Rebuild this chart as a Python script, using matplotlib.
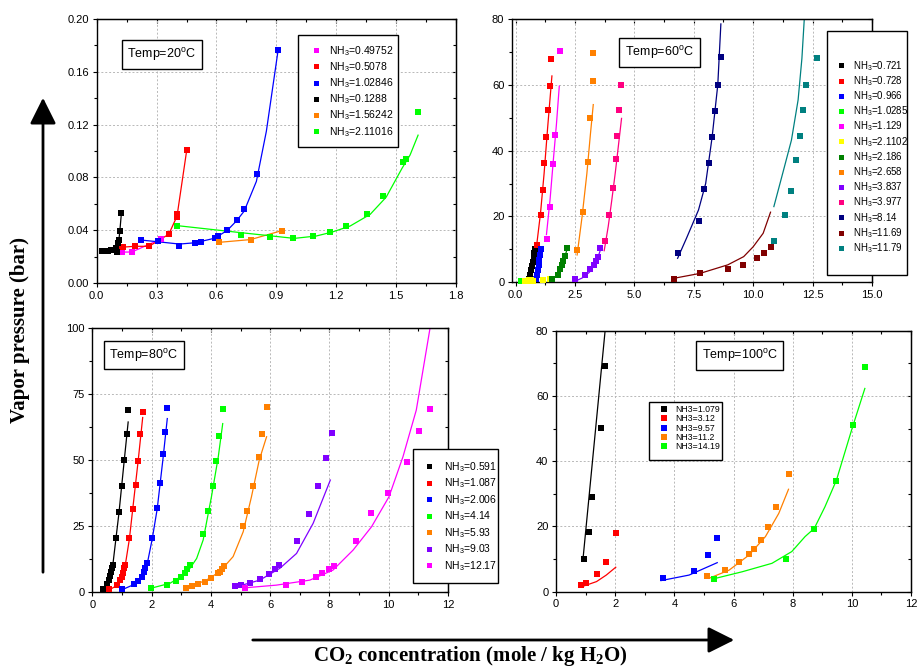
import matplotlib
matplotlib.use('Agg')
import matplotlib.pyplot as plt
from matplotlib.lines import Line2D
from matplotlib.patches import Rectangle, FancyArrowPatch
from matplotlib.ticker import MultipleLocator, FormatStrFormatter

plt.rcParams['font.family'] = ['Liberation Sans', 'DejaVu Sans']

# ---------------- data ----------------
# Temp = 20 C
t20_labels = ['0.49752', '0.5078', '1.02846', '0.1288', '1.56242', '2.11016']
t20_colors = ['#FF00FF', '#FF0000', '#0000FF', '#000000', '#FF8000', '#00FF00']
t20_x = [
    [0.128, 0.176, 0.322],
    [0.106, 0.133, 0.191, 0.262, 0.361, 0.400, 0.404, 0.451],
    [0.224, 0.308, 0.414, 0.494, 0.522, 0.593, 0.610, 0.655, 0.702, 0.739, 0.804, 0.907],
    [0.025, 0.041, 0.058, 0.074, 0.086, 0.096, 0.103, 0.108, 0.111, 0.116, 0.124],
    [0.613, 0.771, 0.928],
    [0.401, 0.721, 0.867, 0.983, 1.086, 1.169, 1.251, 1.356, 1.434, 1.535, 1.550, 1.611],
]
t20_y = [
    [0.0234, 0.0235, 0.0333],
    [0.0278, 0.0272, 0.0278, 0.0278, 0.0369, 0.0498, 0.0523, 0.1006],
    [0.0324, 0.0319, 0.0281, 0.0306, 0.0314, 0.0344, 0.0359, 0.0405, 0.0480, 0.0561, 0.0827, 0.1762],
    [0.0243, 0.0243, 0.0243, 0.0248, 0.0253, 0.0266, 0.0235, 0.0304, 0.0324, 0.0395, 0.0534],
    [0.0308, 0.0329, 0.0397],
    [0.0435, 0.0362, 0.0351, 0.0344, 0.0357, 0.0389, 0.0432, 0.0523, 0.0662, 0.0913, 0.0941, 0.1295],
]
t20_fit_x = [
    [0.128, 0.176, 0.322],
    [0.106, 0.133, 0.191, 0.262, 0.361, 0.400, 0.404, 0.451],
    [0.224, 0.31, 0.414, 0.494, 0.593, 0.655, 0.70, 0.739, 0.80, 0.85, 0.907],
    [0.025, 0.041, 0.058, 0.074, 0.086, 0.096, 0.103, 0.108, 0.111, 0.116, 0.124],
    [0.613, 0.771, 0.928],
    [0.401, 0.70, 0.99, 1.10, 1.18, 1.27, 1.37, 1.45, 1.53, 1.57, 1.61],
]
t20_fit_y = [
    [0.0234, 0.0235, 0.0333],
    [0.0278, 0.0272, 0.0278, 0.0278, 0.0369, 0.0498, 0.0523, 0.1006],
    [0.0325, 0.0312, 0.0295, 0.0305, 0.0340, 0.0400, 0.0470, 0.0545, 0.0770, 0.115, 0.1745],
    [0.0243, 0.0243, 0.0243, 0.0248, 0.0253, 0.0266, 0.0268, 0.0290, 0.0324, 0.0395, 0.0534],
    [0.0308, 0.0329, 0.0397],
    [0.0435, 0.0385, 0.0338, 0.0356, 0.0386, 0.0432, 0.052, 0.065, 0.087, 0.097, 0.112],
]

# Temp = 60 C
t60_labels = ['0.721', '0.728', '0.966', '1.0285', '1.129', '2.1102', '2.186',
              '2.658', '3.837', '3.977', '8.14', '11.69', '11.79']
t60_colors = ['#000000', '#FF0000', '#0000FF', '#00FF00', '#FF00FF', '#FFFF00', '#008000',
              '#FF8000', '#8000FF', '#FF0080', '#000080', '#800000', '#008080']
t60_x = [
    [0.55, 0.62, 0.66, 0.69, 0.73, 0.76, 0.79, 0.83],
    [0.91, 1.05, 1.14, 1.21, 1.30, 1.37, 1.44, 1.51],
    [0.85, 0.90, 0.94, 0.97, 1.00, 1.04, 1.08],
    [0.21],
    [1.33, 1.44, 1.58, 1.65, 1.87],
    [0.39, 0.50, 0.58, 0.66, 0.74, 1.16, 1.44],
    [1.54, 1.79, 1.89, 1.96, 2.00, 2.08, 2.18],
    [2.59, 2.82, 3.03, 3.13, 3.24, 3.24],
    [2.50, 2.92, 3.14, 3.31, 3.40, 3.45, 3.55],
    [3.76, 3.94, 4.11, 4.22, 4.27, 4.35, 4.42],
    [6.82, 7.71, 7.94, 8.13, 8.27, 8.40, 8.51, 8.63],
    [6.65, 7.76, 8.93, 9.59, 10.15, 10.46, 10.73],
    [10.88, 11.35, 11.61, 11.82, 11.96, 12.08, 12.22, 12.69],
]
t60_y = [
    [0.9, 2.2, 3.7, 5.0, 6.3, 7.6, 8.8, 10.1],
    [11.3, 20.5, 27.9, 36.2, 44.1, 52.2, 59.6, 67.8],
    [1.1, 2.2, 3.7, 5.3, 6.8, 8.3, 10.1],
    [0.3],
    [13.1, 22.8, 35.8, 44.9, 70.3],
    [0.5, 0.5, 0.6, 0.6, 0.5, 0.6, 0.9],
    [0.9, 2.2, 3.9, 5.3, 6.6, 8.0, 10.3],
    [9.8, 21.3, 36.4, 49.8, 61.3, 69.8],
    [0.9, 2.2, 3.9, 5.3, 6.5, 7.8, 10.3],
    [12.4, 20.5, 28.6, 37.4, 44.3, 52.2, 60.0],
    [9.0, 18.6, 28.4, 36.2, 44.1, 52.1, 60.0, 68.6],
    [0.9, 2.7, 4.1, 5.4, 7.3, 9.0, 10.8],
    [12.5, 20.5, 27.7, 37.2, 44.5, 52.4, 60.0, 68.1],
]
t60_fit_x = [
    [0.55, 0.62, 0.66, 0.69, 0.73, 0.76, 0.79, 0.83],
    [0.88, 1.05, 1.20, 1.35, 1.53],
    [0.85, 0.90, 0.94, 0.97, 1.00, 1.04, 1.08],
    [],
    [1.30, 1.45, 1.60, 1.72, 1.84],
    [],
    [1.54, 1.79, 1.89, 1.96, 2.00, 2.08, 2.18],
    [2.59, 2.80, 3.00, 3.15, 3.27],
    [2.50, 2.80, 3.10, 3.30, 3.45, 3.60],
    [3.73, 3.90, 4.05, 4.20, 4.32, 4.46],
    [6.82, 7.20, 7.70, 8.00, 8.27, 8.51, 8.64],
    [6.65, 7.76, 8.93, 9.60, 10.00, 10.42, 10.73],
    [10.87, 11.26, 11.61, 11.89, 12.05, 12.15],
]
t60_fit_y = [
    [0.9, 2.2, 3.7, 5.0, 6.3, 7.6, 8.8, 10.1],
    [10.8, 21.0, 33.0, 47.0, 62.7],
    [1.1, 2.2, 3.7, 5.3, 6.8, 8.3, 10.1],
    [],
    [14.5, 25.0, 38.0, 48.0, 59.6],
    [],
    [0.9, 2.2, 3.9, 5.3, 6.6, 8.0, 10.3],
    [8.3, 20.0, 33.0, 45.0, 54.0],
    [0.3, 1.3, 3.0, 5.0, 7.2, 10.5],
    [9.6, 17.0, 25.0, 33.5, 41.0, 49.8],
    [7.3, 13.5, 22.0, 30.0, 44.0, 60.0, 78.5],
    [1.2, 2.7, 5.3, 7.8, 10.8, 14.9, 21.3],
    [23.0, 33.6, 43.2, 55.4, 68.0, 80.0],
]

# Temp = 80 C
t80_labels = ['0.591', '1.087', '2.006', '4.14', '5.93', '9.03', '12.17']
t80_colors = ['#000000', '#FF0000', '#0000FF', '#00FF00', '#FF8000', '#8000FF', '#FF00FF']
t80_x = [
    [0.37, 0.51, 0.57, 0.60, 0.63, 0.65, 0.69, 0.79, 0.90, 0.99, 1.07, 1.16, 1.22],
    [0.57, 0.84, 0.93, 0.99, 1.04, 1.08, 1.11, 1.25, 1.36, 1.46, 1.54, 1.62, 1.70],
    [0.99, 1.42, 1.55, 1.67, 1.73, 1.79, 1.85, 2.02, 2.19, 2.28, 2.38, 2.46, 2.53],
    [1.97, 2.53, 2.84, 2.98, 3.12, 3.20, 3.31, 3.72, 3.91, 4.06, 4.19, 4.28, 4.40],
    [3.15, 3.35, 3.55, 3.80, 4.02, 4.25, 4.30, 4.36, 4.44, 5.09, 5.22, 5.43, 5.62, 5.74, 5.88],
    [4.80, 5.03, 5.31, 5.66, 5.97, 6.16, 6.30, 6.91, 7.31, 7.62, 7.87, 8.07],
    [5.16, 6.52, 7.08, 7.56, 7.75, 7.97, 8.15, 8.89, 9.39, 9.98, 10.60, 11.02, 11.40],
]
t80_y = [
    [1.3, 3.0, 4.5, 6.1, 7.7, 9.0, 10.2, 20.3, 30.4, 40.2, 50.1, 59.9, 68.9],
    [1.0, 2.5, 4.5, 5.8, 7.3, 9.0, 10.2, 20.6, 31.3, 40.7, 49.8, 59.8, 68.3],
    [1.0, 2.9, 4.3, 5.8, 7.4, 9.0, 10.8, 20.3, 31.9, 41.4, 52.1, 60.7, 69.6],
    [1.4, 2.6, 4.3, 5.8, 7.1, 8.6, 10.1, 21.9, 30.5, 40.2, 49.7, 59.1, 69.2],
    [1.6, 2.3, 2.9, 3.9, 5.4, 7.1, 7.7, 8.6, 9.8, 25.1, 30.8, 40.2, 51.1, 60.0, 70.1],
    [2.3, 2.6, 3.5, 4.9, 6.7, 8.6, 10.2, 19.3, 29.5, 40.2, 50.7, 60.3],
    [1.6, 2.6, 3.9, 5.8, 7.1, 8.6, 9.8, 19.4, 30.0, 37.6, 49.1, 61.0, 69.5],
]
t80_fit_x = [
    [0.37, 0.55, 0.69, 0.90, 1.07, 1.21],
    [0.57, 0.84, 1.00, 1.11, 1.25, 1.40, 1.55, 1.70],
    [0.99, 1.42, 1.67, 1.85, 2.02, 2.19, 2.38, 2.53],
    [1.97, 2.62, 3.18, 3.52, 3.74, 4.02, 4.25, 4.40],
    [3.15, 3.85, 4.30, 4.75, 5.09, 5.37, 5.63, 5.88],
    [4.80, 5.65, 6.33, 6.89, 7.45, 8.03],
    [5.16, 6.21, 7.34, 8.12, 8.80, 9.42, 10.01, 10.48, 10.93, 11.39],
]
t80_fit_y = [
    [1.0, 4.0, 10.0, 30.0, 49.0, 64.4],
    [0.8, 2.5, 5.5, 10.0, 20.0, 35.0, 50.0, 66.1],
    [0.8, 2.9, 5.8, 10.5, 20.0, 31.5, 50.0, 65.7],
    [1.4, 3.3, 7.1, 12.7, 19.7, 36.1, 51.2, 63.8],
    [1.4, 4.5, 7.7, 13.4, 22.8, 36.1, 49.9, 58.8],
    [1.8, 4.5, 9.0, 14.6, 26.0, 42.4],
    [1.6, 2.6, 4.5, 8.3, 15.9, 24.7, 36.1, 51.2, 68.9, 99.7],
]

# Temp = 100 C
t100_labels = ['1.079', '3.12', '9.57', '11.2', '14.19']
t100_colors = ['#000000', '#FF0000', '#0000FF', '#FF8000', '#00FF00']
t100_x = [
    [0.94, 1.10, 1.23, 1.51, 1.67],
    [0.86, 1.00, 1.37, 1.68, 2.02],
    [3.62, 4.65, 5.15, 5.45],
    [5.10, 5.70, 6.18, 6.52, 6.69, 6.92, 7.17, 7.45, 7.86],
    [5.34, 7.78, 8.73, 9.47, 10.03, 10.44],
]
t100_y = [
    [9.9, 18.4, 29.1, 50.3, 69.2],
    [2.0, 2.8, 5.3, 9.2, 17.9],
    [4.1, 6.3, 11.2, 16.5],
    [4.9, 6.6, 9.0, 11.5, 13.1, 16.0, 19.7, 26.0, 36.1],
    [4.0, 9.9, 19.2, 33.8, 51.2, 68.9],
]
t100_fit_x = [
    [0.92, 1.66],
    [0.86, 1.37, 1.70, 2.02],
    [3.55, 4.50, 5.45],
    [5.17, 5.85, 6.52, 7.08, 7.53, 7.86],
    [5.26, 6.29, 7.30, 7.97, 8.42, 8.73, 9.09, 9.48, 9.99, 10.44],
]
t100_fit_y = [
    [10.7, 80.0],
    [1.5, 3.1, 5.1, 7.5],
    [3.4, 5.1, 8.9],
    [4.1, 6.6, 11.2, 16.9, 24.0, 31.4],
    [3.8, 6.1, 8.7, 12.3, 16.9, 19.4, 26.0, 34.2, 49.5, 62.3],
]

# ---------------- figure ----------------
W, H = 917, 670
fig = plt.figure(figsize=(W / 100, H / 100), dpi=100)


def px_axes(l, t, r, b):
    return fig.add_axes([l / W, 1 - b / H, (r - l) / W, (b - t) / H])


def style(ax, xlim, ylim, xmaj, ymaj, xfmt, yfmt):
    ax.set_xlim(xlim)
    ax.set_ylim(ylim)
    ax.xaxis.set_major_locator(MultipleLocator(xmaj))
    ax.xaxis.set_minor_locator(MultipleLocator(xmaj / 2))
    ax.yaxis.set_major_locator(MultipleLocator(ymaj))
    ax.yaxis.set_minor_locator(MultipleLocator(ymaj / 2))
    ax.xaxis.set_major_formatter(FormatStrFormatter(xfmt))
    ax.yaxis.set_major_formatter(FormatStrFormatter(yfmt))
    ax.grid(True, which='major', color='#b8b8b8', linestyle=(0, (2, 2)), linewidth=0.7)
    ax.set_axisbelow(True)
    ax.tick_params(which='major', direction='out', length=3, width=0.8, labelsize=8, pad=2.5)
    ax.tick_params(which='minor', direction='out', length=2, width=0.8)
    for sp in ax.spines.values():
        sp.set_linewidth(1)
    # inward ticks on the top and right sides
    sx = ax.secondary_xaxis('top')
    sx.xaxis.set_major_locator(MultipleLocator(xmaj))
    sx.xaxis.set_minor_locator(MultipleLocator(xmaj / 2))
    sx.tick_params(which='both', direction='in', labeltop=False, width=0.8)
    sx.tick_params(which='major', length=3)
    sx.tick_params(which='minor', length=2)
    sy = ax.secondary_yaxis('right')
    sy.yaxis.set_major_locator(MultipleLocator(ymaj))
    sy.yaxis.set_minor_locator(MultipleLocator(ymaj / 2))
    sy.tick_params(which='both', direction='in', labelright=False, width=0.8)
    sy.tick_params(which='major', length=3)
    sy.tick_params(which='minor', length=2)


def draw(ax, xs, ys, fxs, fys, colors, ms):
    for x, y, fx, fy, c in zip(xs, ys, fxs, fys, colors):
        if fx:
            ax.plot(fx, fy, '-', color=c, lw=0.9, zorder=2)
        ax.plot(x, y, 's', color=c, ms=ms, mew=0, zorder=3, clip_on=False)


def legend(ax, labels, colors, sub, xm, xt, y0, step, fs, ms, box, rowf):
    F = fs * 100 / 72
    hl = 0.8
    rowh = rowf * F
    prefix = 'NH$_\\mathregular{3}$=' if sub else 'NH3='
    handles = [Line2D([], [], ls='none', marker='s', ms=ms, color=c, mew=0) for c in colors]
    ax.legend(handles, [prefix + s for s in labels], loc='upper left',
              bbox_to_anchor=((xm - hl * F / 2) / W, 1 - (y0 - rowh / 2) / H),
              bbox_transform=fig.transFigure, frameon=False, fontsize=fs,
              handlelength=hl, handletextpad=(xt - xm - hl * F / 2) / F,
              labelspacing=(step - rowh) / F, borderpad=0, borderaxespad=0)
    rect = Rectangle((box[0] / W, 1 - box[3] / H), (box[2] - box[0]) / W, (box[3] - box[1]) / H,
                     transform=fig.transFigure, facecolor='white', edgecolor='black',
                     lw=1, zorder=4, clip_on=False)
    ax.add_artist(rect)


def temp_box(ax, cx, cy, txt):
    ax.text(cx / W, 1 - cy / H, txt, transform=fig.transFigure, ha='center', va='center',
            fontsize=9, zorder=6,
            bbox=dict(boxstyle='square,pad=0.45', facecolor='white', edgecolor='black', lw=1))


# 20 C
ax1 = px_axes(96.7, 19, 456, 283)
style(ax1, (0, 1.8), (0, 0.2), 0.3, 0.04, '%.1f', '%.2f')
draw(ax1, t20_x, t20_y, t20_fit_x, t20_fit_y, t20_colors, 3.8)
legend(ax1, t20_labels, t20_colors, True, 316, 329, 50.7, 16.4, 7.5, 3.6,
       (298, 35, 398, 147), 1.34)
temp_box(ax1, 162, 54.5, 'Temp=20$^\\mathregular{o}$C')

# 60 C
ax2 = px_axes(512, 19, 872, 282.3)
style(ax2, (-0.15, 15), (0, 80), 2.5, 20, '%.1f', '%d')
draw(ax2, t60_x, t60_y, t60_fit_x, t60_fit_y, t60_colors, 4)
legend(ax2, t60_labels, t60_colors, True, 840.7, 853, 65.7, 15, 7, 3.6,
       (827, 31, 907, 275), 1.40)
temp_box(ax2, 659.5, 52.5, 'Temp=60$^\\mathregular{o}$C')

# 80 C
ax3 = px_axes(92.3, 328, 448, 592)
style(ax3, (0, 12), (0, 100), 2, 25, '%d', '%d')
draw(ax3, t80_x, t80_y, t80_fit_x, t80_fit_y, t80_colors, 4.2)
legend(ax3, t80_labels, t80_colors, True, 429, 444, 466.7, 16.7, 7.5, 3.6,
       (413, 449, 498, 583), 1.34)
temp_box(ax3, 144, 355, 'Temp=80$^\\mathregular{o}$C')

# 100 C
ax4 = px_axes(556, 330.7, 911, 591.7)
style(ax4, (0, 12), (0, 80), 2, 20, '%d', '%d')
draw(ax4, t100_x, t100_y, t100_fit_x, t100_fit_y, t100_colors, 4.4)
legend(ax4, t100_labels, t100_colors, False, 663.7, 675.7, 410, 10.7, 6.3, 4.2,
       (649, 402, 722, 460), 1.18)
temp_box(ax4, 739.5, 355.5, 'Temp=100$^\\mathregular{o}$C')

# shared labels and arrows
fig.text(20 / W, 1 - 330 / H, 'Vapor pressure (bar)', rotation=90, ha='center', va='center',
         fontsize=15, fontweight='bold', family='Liberation Serif')
fig.text(470 / W, 1 - 656 / H, 'CO$_\\mathregular{2}$ concentration (mole / kg H$_\\mathregular{2}$O)',
         ha='center', va='center', fontsize=15, fontweight='bold', family='Liberation Serif')
fig.add_artist(FancyArrowPatch((43 / W, 1 - 575 / H), (43 / W, 1 - 95 / H), transform=fig.transFigure,
                               arrowstyle='-|>,head_length=0.8,head_width=0.4', mutation_scale=20,
                               lw=2, color='black'))
fig.add_artist(FancyArrowPatch((250 / W, 1 - 640 / H), (737 / W, 1 - 640 / H), transform=fig.transFigure,
                               arrowstyle='-|>,head_length=0.8,head_width=0.4', mutation_scale=20,
                               lw=2, color='black'))

fig.savefig('out.png', dpi=100)
